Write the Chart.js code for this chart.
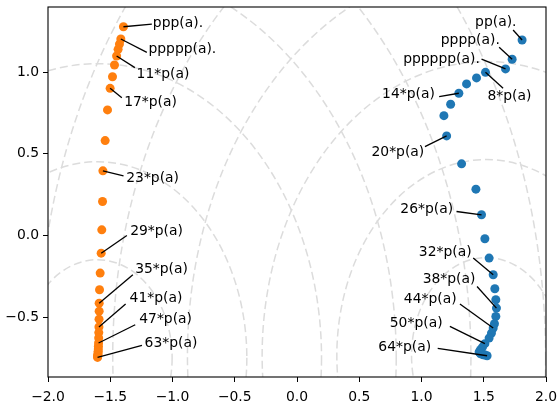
<!DOCTYPE html>
<html>
<head>
<meta charset="utf-8">
<script src="https://cdn.jsdelivr.net/npm/chart.js@4.4.1/dist/chart.umd.min.js"></script>
<style>
  html, body { margin: 0; padding: 0; background: #fff; }
  #wrap { width: 557px; height: 402px; }
</style>
</head>
<body>
<div id="wrap"><canvas id="chart" width="557" height="402"></canvas></div>
<script>
// even iterates (blue)
const blueN = [2, 4, 6, 8, 10, 12, 14, 16, 18, 20, 22, 24, 26, 28, 30, 32,
               34, 36, 38, 40, 42, 44, 46, 48, 50, 52, 54, 56, 58, 60, 62, 64];
const blueX = [1.808, 1.728, 1.675, 1.514, 1.442, 1.362, 1.300, 1.234, 1.180, 1.202, 1.322, 1.437, 1.482, 1.509, 1.543, 1.576,
               1.589, 1.597, 1.602, 1.597, 1.586, 1.576, 1.562, 1.543, 1.509, 1.490, 1.474, 1.463, 1.474, 1.495, 1.511, 1.527];
const blueY = [1.197, 1.079, 1.020, 0.999, 0.965, 0.928, 0.871, 0.804, 0.734, 0.610, 0.439, 0.284, 0.127, -0.020, -0.138, -0.240,
               -0.326, -0.393, -0.444, -0.495, -0.540, -0.566, -0.597, -0.628, -0.662, -0.683, -0.699, -0.713, -0.724, -0.730, -0.732, -0.736];

// odd iterates (orange)
const orangeN = [3, 5, 7, 9, 11, 13, 15, 17, 19, 21, 23, 25, 27, 29, 31, 33,
                 35, 37, 39, 41, 43, 45, 47, 49, 51, 53, 55, 57, 59, 61, 63];
const orangeX = [-1.394, -1.415, -1.426, -1.437, -1.449, -1.466, -1.482, -1.501, -1.522, -1.541, -1.559, -1.562, -1.568, -1.573, -1.581, -1.586,
                 -1.589, -1.589, -1.590, -1.591, -1.592, -1.593, -1.594, -1.595, -1.596, -1.597, -1.598, -1.599, -1.600, -1.601, -1.602];
const orangeY = [1.278, 1.203, 1.172, 1.140, 1.099, 1.044, 0.972, 0.901, 0.769, 0.581, 0.396, 0.208, 0.035, -0.108, -0.230, -0.332,
                 -0.414, -0.463, -0.512, -0.560, -0.594, -0.627, -0.658, -0.677, -0.694, -0.708, -0.719, -0.728, -0.735, -0.740, -0.746];

// dashed rings round the two limit points
const ringCenterX = [-1.603, 1.52];
const ringCenterY = [-0.748, -0.735];
const ringRadii = [0.6, 1.2, 1.8, 2.4, 3.0, 3.6, 4.2];

const yTicks = [-0.5, 0.0, 0.5, 1.0];

// which iterates get a label
const blueLabelled = [2, 4, 6, 8, 14, 20, 26, 32, 38, 44, 50, 64];
const orangeLabelled = [3, 5, 11, 17, 23, 29, 35, 41, 47, 63];

// label placement, pixel offsets from the point (text anchor, line end)
const labelPlace = {
  2:  { tx: -5.6, ty: -17.3, lx: -9, ly: -10, align: 'right' },
  4:  { tx: -12.3, ty: -19.3, lx: -13, ly: -12, align: 'right' },
  6:  { tx: -25.7, ty: -10, lx: -24, ly: -9.7, align: 'right' },
  8:  { tx: 2, ty: 24.4, lx: 17.6, ly: 16, align: 'left' },
  14: { tx: -24, ty: 0.7, lx: -19.7, ly: 3.4, align: 'right' },
  20: { tx: -22.4, ty: 16.3, lx: -21.7, ly: 10.7, align: 'right' },
  26: { tx: -28.4, ty: -5, lx: -25, ly: -3.3, align: 'right' },
  32: { tx: -21.6, ty: -22.3, lx: -20, ly: -16.7, align: 'right' },
  38: { tx: -21, ty: -28.3, lx: -19.4, ly: -21.6, align: 'right' },
  44: { tx: -36.6, ty: -29, lx: -33.3, ly: -24, align: 'right' },
  50: { tx: -42.3, ty: -20.7, lx: -35, ly: -17.3, align: 'right' },
  64: { tx: -56, ty: -8.4, lx: -49.4, ly: -7.4, align: 'right' },
  3:  { tx: 29.4, ty: -3.4, lx: 28.4, ly: -2.7, align: 'left' },
  5:  { tx: 27.6, ty: 10.7, lx: 26, ly: 13.3, align: 'left' },
  11: { tx: 20, ty: 18.3, lx: 18.3, ly: 11.6, align: 'left' },
  17: { tx: 14, ty: 14.4, lx: 11.7, ly: 9.4, align: 'left' },
  23: { tx: 23.3, ty: 7.3, lx: 20.6, ly: 5, align: 'left' },
  29: { tx: 29, ty: -21.6, lx: 25.7, ly: -17.6, align: 'left' },
  35: { tx: 36, ty: -34, lx: 33.7, ly: -28.3, align: 'left' },
  41: { tx: 30.7, ty: -29, lx: 26.7, ly: -23, align: 'left' },
  47: { tx: 40.7, ty: -24, lx: 36.7, ly: -18.3, align: 'left' },
  63: { tx: 47, ty: -14.4, lx: 44.4, ly: -12, align: 'left' }
};

const FONT = '13.9px "DejaVu Sans"';

const labelText = (n) => (n <= 6 ? "p".repeat(n) + "(a)." : n + "*p(a)");
const fmt = (v) => v.toFixed(1).replace("-", "\u2212");

const rings = {
  id: "rings",
  beforeDatasetsDraw(chart) {
    const { ctx, chartArea: a, scales: { x, y } } = chart;
    const kx = x.getPixelForValue(1) - x.getPixelForValue(0);
    const ky = y.getPixelForValue(0) - y.getPixelForValue(1);
    ctx.save();
    ctx.beginPath();
    ctx.rect(a.left, a.top, a.right - a.left, a.bottom - a.top);
    ctx.clip();
    ctx.strokeStyle = "#dcdcdc";
    ctx.lineWidth = 1.5;
    ctx.setLineDash([8, 4]);
    ringCenterX.forEach((cx, i) => {
      ringRadii.forEach((r) => {
        ctx.beginPath();
        ctx.ellipse(x.getPixelForValue(cx), y.getPixelForValue(ringCenterY[i]), r * kx, r * ky, 0, 0, Math.PI * 2);
        ctx.stroke();
      });
    });
    ctx.restore();
  },
};

const notes = {
  id: "notes",
  afterDatasetsDraw(chart) {
    const { ctx } = chart;
    ctx.save();
    ctx.font = FONT;
    ctx.fillStyle = "#000";
    ctx.strokeStyle = "#000";
    ctx.lineWidth = 1.3;
    ctx.textBaseline = "middle";
    const sets = [[blueN, blueLabelled], [orangeN, orangeLabelled]];
    sets.forEach(([ns, which], di) => {
      const meta = chart.getDatasetMeta(di);
      which.forEach((n) => {
        const el = meta.data[ns.indexOf(n)];
        const p = labelPlace[n];
        ctx.beginPath();
        ctx.moveTo(el.x, el.y);
        ctx.lineTo(el.x + p.lx, el.y + p.ly);
        ctx.stroke();
        ctx.textAlign = p.align;
        ctx.fillText(labelText(n), el.x + p.tx, el.y + p.ty);
      });
    });
    ctx.restore();
  },
  afterDraw(chart) {
    const { ctx, chartArea: a } = chart;
    ctx.save();
    ctx.strokeStyle = "#000";
    ctx.lineWidth = 1.1;
    ctx.strokeRect(a.left, a.top, a.right - a.left, a.bottom - a.top);
    ctx.restore();
  },
};

window.addEventListener("load", () => {
  new Chart(document.getElementById("chart"), {
    type: "scatter",
    data: {
      datasets: [
        {
          data: blueX.map((v, i) => ({ x: v, y: blueY[i] })),
          backgroundColor: "#1f77b4",
          borderWidth: 0,
          pointRadius: 4.5,
        },
        {
          data: orangeX.map((v, i) => ({ x: v, y: orangeY[i] })),
          backgroundColor: "#ff7f0e",
          borderWidth: 0,
          pointRadius: 4.5,
        },
      ],
    },
    options: {
      responsive: false,
      animation: false,
      devicePixelRatio: 1,
      layout: { padding: { top: 7, right: 11, left: 0, bottom: 0 } },
      plugins: {
        legend: { display: false },
        tooltip: { enabled: false },
      },
      scales: {
        x: {
          type: "linear",
          min: -2,
          max: 2,
          afterFit: (s) => { s.height = 25; s.paddingLeft = 0; s.paddingRight = 0; },
          ticks: {
            stepSize: 0.5,
            padding: 7,
            color: "#000",
            font: { family: "DejaVu Sans", size: 13.9 },
            callback: (v) => fmt(v),
          },
          grid: { drawOnChartArea: false, tickLength: 5, color: "#000", tickWidth: 1 },
          border: { display: false },
        },
        y: {
          type: "linear",
          min: -0.866,
          max: 1.399,
          afterFit: (s) => { s.width = 48; s.paddingTop = 0; s.paddingBottom = 0; },
          afterBuildTicks: (s) => { s.ticks = yTicks.map((v) => ({ value: v })); },
          ticks: {
            padding: 4,
            color: "#000",
            font: { family: "DejaVu Sans", size: 13.9 },
            callback: (v) => fmt(v),
          },
          grid: { drawOnChartArea: false, tickLength: 5, color: "#000", tickWidth: 1 },
          border: { display: false },
        },
      },
    },
    plugins: [rings, notes],
  });
});
</script>
</body>
</html>
